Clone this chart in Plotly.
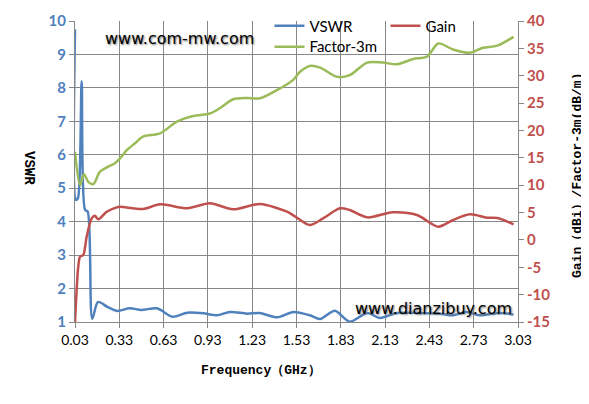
import plotly.graph_objects as go

# ---- data ----
freq_vswr = [0.03, 0.037, 0.05, 0.075, 0.098, 0.116, 0.147, 0.186, 0.25, 0.314, 0.40, 0.48, 0.585,
             0.69, 0.79, 0.90, 0.99, 1.08, 1.195, 1.28, 1.40, 1.51, 1.62, 1.69, 1.79, 1.89, 2.01,
             2.095, 2.21, 2.35, 2.50, 2.59, 2.68, 2.77, 2.91, 3.0]
vswr = [9.75, 4.65, 4.7, 8.2, 4.35, 4.3, 1.1, 1.6, 1.45, 1.33, 1.41, 1.36, 1.41,
        1.16, 1.28, 1.26, 1.2, 1.3, 1.25, 1.27, 1.14, 1.3, 1.2, 1.09, 1.34, 1.01, 1.27,
        1.12, 1.27, 1.27, 1.25, 1.2, 1.3, 1.2, 1.27, 1.22]

freq_gain = [0.03, 0.052, 0.064, 0.086, 0.109, 0.143, 0.165, 0.188, 0.245, 0.312, 0.335, 0.49,
             0.606, 0.79, 0.944, 1.10, 1.283, 1.466, 1.52, 1.62, 1.71, 1.825, 1.89, 2.01, 2.18,
             2.346, 2.49, 2.59, 2.705, 2.82, 2.89, 3.0]
gain = [-15.0, -4.9, -3.07, -2.76, 0.6, 3.94, 4.4, 3.77, 5.15, 5.95, 6.06, 5.65,
        6.5, 5.77, 6.69, 5.6, 6.56, 5.15, 4.3, 2.72, 3.94, 5.77, 5.46, 4.12, 5.04,
        4.55, 2.42, 3.64, 4.68, 4.06, 4.0, 2.85]

freq_factor = [0.03, 0.064, 0.091, 0.12, 0.154, 0.199, 0.255, 0.30, 0.335, 0.382, 0.436, 0.49,
               0.606, 0.72, 0.83, 0.944, 1.01, 1.10, 1.195, 1.283, 1.40, 1.506, 1.554, 1.62,
               1.69, 1.804, 1.89, 2.008, 2.116, 2.21, 2.32, 2.414, 2.49, 2.59, 2.705, 2.793,
               2.89, 3.0]
factor = [16.1, 10.0, 12.0, 10.6, 10.2, 12.46, 13.38, 14.0, 14.9, 16.43, 17.65, 18.86,
          19.47, 21.6, 22.64, 23.1, 24.05, 25.7, 25.93, 25.87, 27.4, 29.2, 30.73, 31.78,
          31.47, 29.8, 30.1, 32.4, 32.4, 32.1, 33.05, 33.5, 35.9, 34.8, 34.2, 35.1,
          35.5, 37.1]

x_ticks = [0.03, 0.33, 0.63, 0.93, 1.23, 1.53, 1.83, 2.13, 2.43, 2.73, 3.03]
x_tick_labels = ["0.03", "0.33", "0.63", "0.93", "1.23", "1.53", "1.83", "2.13", "2.43", "2.73", "3.03"]
y2_ticks = [-15, -10, -5, 0, 5, 10, 15, 20, 25, 30, 35, 40]
y2_tick_labels = ["-15", "-10", "-5", "0", "5", "10", "15", "20", "25", "30", "35", "40"]

BLUE = "#4F81BD"
RED = "#C0504D"
GREEN = "#9BBB59"
GRID = "#878787"

# The page body adds an 8px offset; the figure is sized so it fits the 589x404 window.
OFF = 8
W, H = 589 - OFF, 404 - OFF
PL, PR, PT, PB = 75, 518, 21, 322   # plot area in window pixels

fig = go.Figure()
fig.add_trace(go.Scatter(x=freq_vswr, y=vswr, name="VSWR", mode="lines",
                         line=dict(color=BLUE, width=2.5, shape="spline", smoothing=0.8),
                         legend="legend"))
fig.add_trace(go.Scatter(x=freq_gain, y=gain, name="Gain", mode="lines", yaxis="y2",
                         line=dict(color=RED, width=2.5, shape="spline", smoothing=0.8),
                         legend="legend"))
fig.add_trace(go.Scatter(x=freq_factor, y=factor, name="Factor-3m", mode="lines", yaxis="y2",
                         line=dict(color=GREEN, width=2.5, shape="spline", smoothing=0.8),
                         legend="legend2"))


def px(X):
    return (X - PL) / (PR - PL)


def py(Y):
    return (PB - Y) / (PB - PT)


fig.update_layout(
    width=W, height=H,
    margin=dict(l=PL - OFF, r=W - (PR - OFF), t=PT - OFF, b=H - (PB - OFF), autoexpand=False),
    paper_bgcolor="white", plot_bgcolor="white",
    showlegend=True,
    xaxis=dict(range=[0.03, 3.03], tickvals=x_ticks, ticktext=x_tick_labels,
               showgrid=True, gridcolor=GRID, gridwidth=1,
               showline=True, linecolor=GRID, linewidth=1,
               ticks="outside", ticklen=5, tickcolor=GRID,
               tickfont=dict(family="Lato", size=14, color="black"),
               zeroline=False, automargin=False),
    yaxis=dict(range=[1, 10], dtick=1, tick0=1,
               showgrid=True, gridcolor=GRID, gridwidth=1,
               showline=True, linecolor=GRID, linewidth=1,
               ticks="outside", ticklen=5, tickcolor=GRID,
               tickfont=dict(family="Lato", size=15, color=BLUE, weight="bold"),
               zeroline=False, automargin=False),
    yaxis2=dict(range=[-15, 40], tickvals=y2_ticks, ticktext=y2_tick_labels,
                overlaying="y", side="right",
                showgrid=False, showline=True, linecolor=GRID, linewidth=1,
                ticks="outside", ticklen=5, tickcolor=GRID,
                tickfont=dict(family="Lato", size=15, color=RED, weight="bold"),
                zeroline=False, automargin=False),
    legend=dict(orientation="h", x=0.439, xanchor="left", y=0.983, yanchor="middle",
                bgcolor="rgba(0,0,0,0)", font=dict(family="Lato", size=15, color="black"),
                entrywidth=71, itemwidth=30, tracegroupgap=0),
    legend2=dict(orientation="h", x=0.439, xanchor="left", y=0.914, yanchor="middle",
                 bgcolor="rgba(0,0,0,0)", font=dict(family="Lato", size=15, color="black"),
                 itemwidth=30),
    annotations=[
        dict(text="www.com-mw.com", xref="paper", yref="paper",
             x=px(179), y=py(38), xanchor="center", yanchor="middle", showarrow=False,
             font=dict(family="DejaVu Sans", size=16, color="black",
                       shadow="1px 1px 2px #777")),
        dict(text="www.dianzibuy.com", xref="paper", yref="paper",
             x=px(433), y=py(308), xanchor="center", yanchor="middle", showarrow=False,
             font=dict(family="DejaVu Sans", size=16, color="black",
                       shadow="1px 1px 2px #777")),
        dict(text="Frequency（GHz）", xref="paper", yref="paper",
             x=px(261), y=py(370), xanchor="center", yanchor="middle", showarrow=False,
             font=dict(family="Liberation Mono", size=13, color="black", weight="bold")),
        dict(text="VSWR", xref="paper", yref="paper", textangle=90,
             x=px(29), y=py(168), xanchor="center", yanchor="middle", showarrow=False,
             font=dict(family="Liberation Mono", size=14, color="black", weight="bold")),
        dict(text="Gain（dBi）/Factor-3m(dB/m)", xref="paper", yref="paper", textangle=-90,
             x=px(578), y=py(176), xanchor="center", yanchor="middle", showarrow=False,
             font=dict(family="Liberation Mono", size=13, color="black", weight="bold")),
    ],
)

fig.write_html("out.html")
